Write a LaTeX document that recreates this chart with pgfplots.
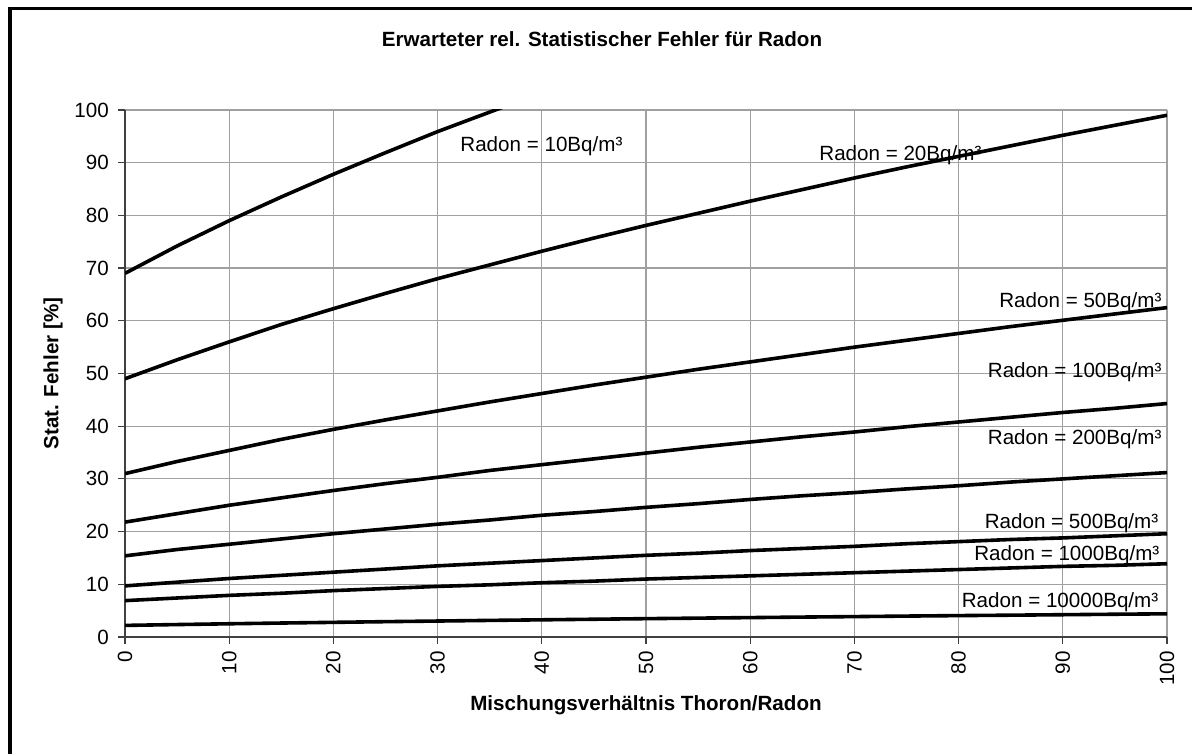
\documentclass[border=0pt]{standalone}
\usepackage{pgfplots}
\pgfplotsset{compat=1.18}
\usepackage{fontspec}
\setmainfont{Liberation Sans}
\definecolor{gridgray}{RGB}{160,160,160}
\begin{document}
\fontsize{10.3bp}{12bp}\selectfont
\begin{tikzpicture}
\useasboundingbox (0,0) rectangle (596bp,377bp);
\draw[line width=1.75bp] (5bp,-5bp) -- (5bp,372.85bp) -- (620bp,372.85bp);
\begin{axis}[
  at={(62.5bp,58.5bp)}, anchor=south west,
  scale only axis, width=521bp, height=263.5bp,
  xmin=0, xmax=100, ymin=0, ymax=100,
  xtick={0,10,...,100}, ytick={0,10,...,100},
  axis x line*=bottom, axis y line*=left,
  axis line style={-, black!75, line width=0.6bp},
  grid=major,
  major grid style={gridgray, line width=0.6bp},
  tick align=outside, major tick length=3.5bp,
  tick style={black!75, line width=0.6bp},
  /pgf/number format/assume math mode=true,
  tick label style={font=\fontsize{10.3bp}{12bp}\selectfont},
  xticklabel style={rotate=90, anchor=east},
  yticklabel style={anchor=east, xshift=-1bp},
  title={\bfseries Erwarteter rel. Statistischer Fehler f\"ur Radon},
  every axis title/.style={at={(axis description cs:0.4578,1.120)}, anchor=base, font=\fontsize{10.3bp}{12bp}\selectfont},
  xlabel={\bfseries Mischungsverh\"altnis Thoron/Radon},
  ylabel={\bfseries Stat. Fehler [\%]},
  every axis x label/.style={at={(axis description cs:0.5,-0.129)}, anchor=center, font=\fontsize{10.3bp}{12bp}\selectfont},
  every axis y label/.style={at={(axis description cs:-0.069,0.5)}, rotate=90, anchor=center, font=\fontsize{10.3bp}{12bp}\selectfont},
  curve/.style={black, solid, line width=1.8bp, line join=round, mark=none},
]
% Radon = 10
\addplot[curve] coordinates {(0,69.0)(5,74.2)(10,79.0)(15,83.5)(20,87.8)(25,91.9)(30,95.9)(35,99.6)(40,103.3)};
% Radon = 20
\addplot[curve] coordinates {(0,49.0)(5,52.6)(10,56.0)(15,59.3)(20,62.3)(25,65.2)(30,68.0)(35,70.6)(40,73.2)(45,75.7)(50,78.1)(55,80.4)(60,82.7)(65,84.9)(70,87.1)(75,89.2)(80,91.2)(85,93.2)(90,95.2)(95,97.1)(100,99.0)};
% Radon = 50
\addplot[curve] coordinates {(0,31.0)(5,33.3)(10,35.4)(15,37.5)(20,39.4)(25,41.2)(30,42.9)(35,44.6)(40,46.2)(45,47.8)(50,49.3)(55,50.8)(60,52.2)(65,53.6)(70,55.0)(75,56.3)(80,57.6)(85,58.9)(90,60.1)(95,61.3)(100,62.5)};
% Radon = 100
\addplot[curve] coordinates {(0,21.8)(5,23.4)(10,25.0)(15,26.4)(20,27.8)(25,29.1)(30,30.3)(35,31.6)(40,32.7)(45,33.8)(50,34.9)(55,36.0)(60,37.0)(65,38.0)(70,38.9)(75,39.9)(80,40.8)(85,41.7)(90,42.6)(95,43.4)(100,44.3)};
% Radon = 200
\addplot[curve] coordinates {(0,15.4)(5,16.6)(10,17.6)(15,18.6)(20,19.6)(25,20.5)(30,21.4)(35,22.2)(40,23.1)(45,23.8)(50,24.6)(55,25.3)(60,26.1)(65,26.8)(70,27.4)(75,28.1)(80,28.7)(85,29.4)(90,30.0)(95,30.6)(100,31.2)};
% Radon = 500
\addplot[curve] coordinates {(0,9.7)(5,10.4)(10,11.1)(15,11.7)(20,12.3)(25,12.9)(30,13.5)(35,14.0)(40,14.5)(45,15.0)(50,15.5)(55,15.9)(60,16.4)(65,16.8)(70,17.2)(75,17.7)(80,18.1)(85,18.5)(90,18.8)(95,19.2)(100,19.6)};
% Radon = 1000
\addplot[curve] coordinates {(0,6.9)(5,7.4)(10,7.9)(15,8.3)(20,8.8)(25,9.2)(30,9.6)(35,9.9)(40,10.3)(45,10.6)(50,11.0)(55,11.3)(60,11.6)(65,11.9)(70,12.2)(75,12.5)(80,12.8)(85,13.1)(90,13.4)(95,13.6)(100,13.9)};
% Radon = 10000
\addplot[curve] coordinates {(0,2.2)(5,2.36)(10,2.51)(15,2.65)(20,2.78)(25,2.91)(30,3.03)(35,3.15)(40,3.26)(45,3.37)(50,3.48)(55,3.58)(60,3.68)(65,3.78)(70,3.87)(75,3.97)(80,4.06)(85,4.14)(90,4.23)(95,4.32)(100,4.40)};

\node[anchor=base west, inner sep=0pt] at (axis cs:32.15,92.1) {Radon = 10Bq/m³};
\node[anchor=base west, inner sep=0pt] at (axis cs:66.6,90.5) {Radon = 20Bq/m³};
\node[anchor=base east, inner sep=0pt] at (axis cs:99.5,62.6) {Radon = 50Bq/m³};
\node[anchor=base east, inner sep=0pt] at (axis cs:99.5,49.3) {Radon = 100Bq/m³};
\node[anchor=base east, inner sep=0pt] at (axis cs:99.5,36.6) {Radon = 200Bq/m³};
\node[anchor=base east, inner sep=0pt] at (axis cs:99.2,20.6) {Radon = 500Bq/m³};
\node[anchor=base east, inner sep=0pt] at (axis cs:99.3,14.6) {Radon = 1000Bq/m³};
\node[anchor=base east, inner sep=0pt] at (axis cs:99.2,5.6) {Radon = 10000Bq/m³};
\end{axis}
\end{tikzpicture}
\end{document}
